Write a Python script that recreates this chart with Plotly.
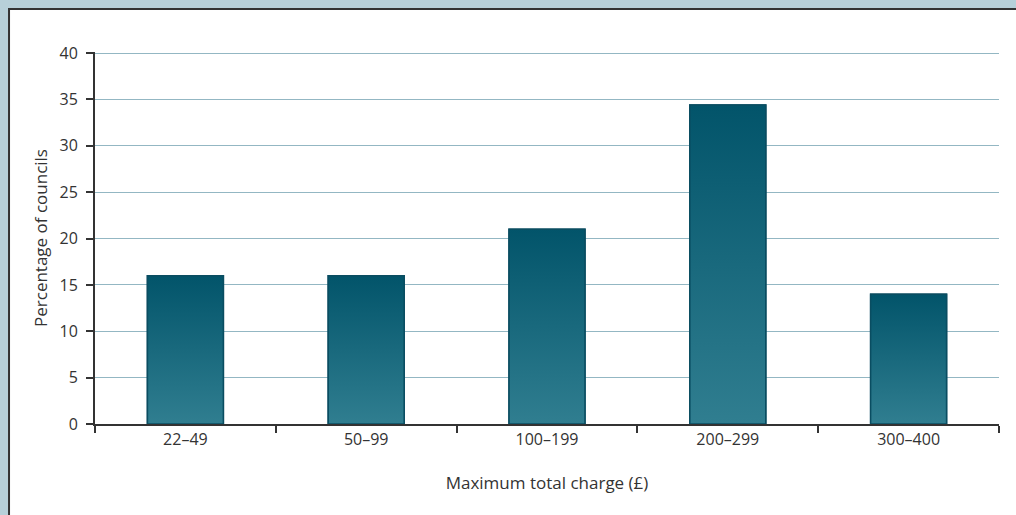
import plotly.graph_objects as go

categories = ["22–49", "50–99", "100–199", "200–299", "300–400"]
percent_councils = [16, 16, 21, 34.4, 14]
y_ticks = [0, 5, 10, 15, 20, 25, 30, 35, 40]

BAR_W = 0.42
TOP_C = "#02546a"
BOT_C = "#307e90"
EDGE_C = "#0a4d61"
FONT = "Open Sans, Noto Sans, sans-serif"
TXT = "#333333"

fig = go.Figure()

fig.add_trace(go.Bar(
    x=categories, y=percent_councils,
    width=BAR_W, marker=dict(color="#17677b", line=dict(color=EDGE_C, width=1.5)),
    hoverinfo="x+y", showlegend=False,
))

# gradient overlays drawn on a hidden linear axis aligned with the category axis
for i, v in enumerate(percent_councils):
    xs = [i - BAR_W / 2, i + BAR_W / 2, i + BAR_W / 2, i - BAR_W / 2, i - BAR_W / 2]
    ys = [0, 0, v, v, 0]
    fig.add_trace(go.Scatter(
        x=xs, y=ys, xaxis="x2", mode="lines", fill="toself",
        fillgradient=dict(type="vertical", colorscale=[[0, BOT_C], [1, TOP_C]]),
        line=dict(color=EDGE_C, width=1.5), hoverinfo="skip", showlegend=False,
    ))

fig.update_layout(
    width=1016, height=515,
    margin=dict(l=95, r=17, t=52, b=91),
    paper_bgcolor="#b7d0d9",
    plot_bgcolor="rgba(0,0,0,0)",
    font=dict(family=FONT, color=TXT, size=16),
    bargap=0.58,
    xaxis=dict(
        type="category", tickson="boundaries", ticks="outside", ticklen=7,
        tickcolor="#333", tickwidth=1.5, showline=True, linecolor="#333", linewidth=2,
        showgrid=False, tickfont=dict(size=16, color=TXT),
        title=dict(text="Maximum total charge (£)", font=dict(size=17, color=TXT), standoff=28),
        range=[-0.5, 4.5],
    ),
    xaxis2=dict(overlaying="x", range=[-0.5, 4.5], visible=False, fixedrange=True),
    yaxis=dict(
        range=[0, 40.12], tickvals=y_ticks, ticks="outside", ticklen=7, tickcolor="#333",
        tickwidth=1.5, showline=True, linecolor="#333", linewidth=2,
        showgrid=True, gridcolor="#93b7c3", gridwidth=1, zeroline=False,
        tickfont=dict(size=16, color=TXT), ticklabelstandoff=5,
        title=dict(text="Percentage of councils", font=dict(size=17, color=TXT), standoff=8),
    ),
    shapes=[dict(
        type="rect", xref="paper", yref="paper", layer="below",
        x0=-0.0951, x1=1.06, y0=-0.3, y1=1.1159,
        fillcolor="white", line=dict(color="#333333", width=2),
    )],
)

fig.write_html(
    "out.html",
    config={"displayModeBar": False},
    post_script="document.body.style.margin='0';document.body.style.overflow='hidden';",
)
